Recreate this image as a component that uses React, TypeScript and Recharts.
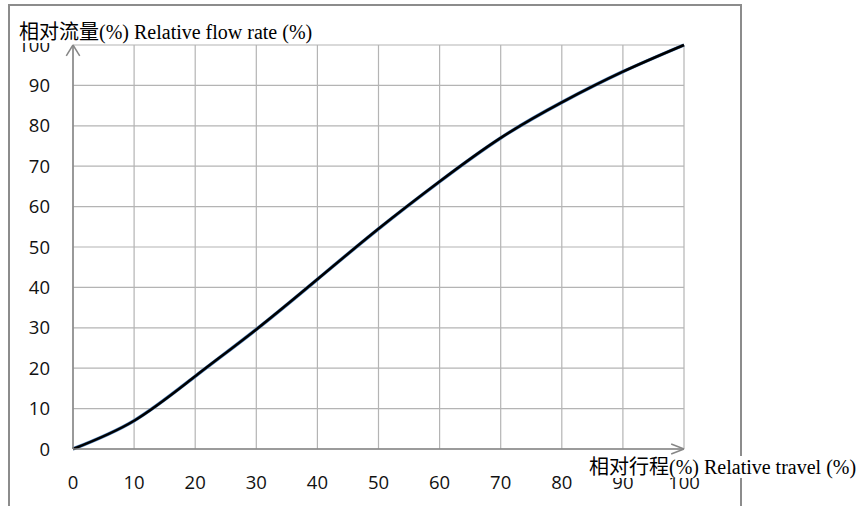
import React from 'react';
import { LineChart, Line, XAxis, YAxis, CartesianGrid, ReferenceLine } from 'recharts';

// relative travel (%) vs relative flow rate (%)
const travel = [0, 10, 20, 30, 40, 50, 60, 70, 80, 90, 100];
const flow = [0, 7, 18, 29.6, 42, 54.5, 66.2, 77, 85.8, 93.4, 100];
const ticks = [0, 10, 20, 30, 40, 50, 60, 70, 80, 90, 100];

const data = travel.map((t, i) => ({ travel: t, flow: flow[i] }));

const AXIS = '#868686';
const GRID = '#b4b4b4';
const tickStyle = { fontFamily: '"Open Sans", "Noto Sans", sans-serif', fontSize: 18.5, fill: '#111' };
const labelStyle: React.CSSProperties = {
    position: 'absolute',
    fontFamily: '"Liberation Serif", "Noto Sans CJK SC", serif',
    fontSize: 20,
    lineHeight: '22px',
    background: '#fff',
    color: '#000',
    whiteSpace: 'nowrap',
    zIndex: 2,
};

export default function App() {
    return (
        <div style={{ position: 'absolute', left: 0, top: 0, width: 860, height: 506, background: '#fff', overflow: 'hidden' }}>
            {/* outer frame, cropped at the bottom */}
            <div
                style={{
                    position: 'absolute',
                    left: 8,
                    top: 4,
                    width: 730,
                    height: 520,
                    border: '2px solid #8c8c8c',
                    zIndex: 0,
                }}
            />
            <div style={{ position: 'absolute', left: 0, top: 0, zIndex: 1 }}>
                <LineChart width={860} height={506} data={data} margin={{ top: 45, right: 176, bottom: 17, left: 13 }}>
                    <CartesianGrid stroke={GRID} strokeWidth={1.2} vertical horizontal />
                    <XAxis
                        dataKey='travel'
                        type='number'
                        domain={[0, 100]}
                        ticks={ticks}
                        height={40}
                        tickLine={false}
                        tickSize={0}
                        tickMargin={27}
                        axisLine={{ stroke: AXIS, strokeWidth: 1.5 }}
                        tick={tickStyle}
                    />
                    <YAxis
                        type='number'
                        domain={[0, 100]}
                        ticks={ticks}
                        width={60}
                        tickLine={false}
                        tickSize={0}
                        tickMargin={23}
                        axisLine={{ stroke: AXIS, strokeWidth: 1.5 }}
                        tick={tickStyle}
                    />
                    {/* arrow heads on the axes */}
                    <ReferenceLine segment={[{ x: 100, y: 0 }, { x: 97.9, y: 1.25 }]} stroke={AXIS} strokeWidth={1.5} ifOverflow='visible' />
                    <ReferenceLine segment={[{ x: 100, y: 0 }, { x: 97.9, y: -1.25 }]} stroke={AXIS} strokeWidth={1.5} ifOverflow='visible' />
                    <ReferenceLine segment={[{ x: 0, y: 100 }, { x: -1.1, y: 97.3 }]} stroke={AXIS} strokeWidth={1.5} ifOverflow='visible' />
                    <ReferenceLine segment={[{ x: 0, y: 100 }, { x: 1.1, y: 97.3 }]} stroke={AXIS} strokeWidth={1.5} ifOverflow='visible' />
                    <Line
                        dataKey='flow'
                        type='natural'
                        stroke='#4f81bd'
                        strokeWidth={3.5}
                        dot={false}
                        isAnimationActive={false}
                    />
                    <Line
                        dataKey='flow'
                        type='natural'
                        stroke='#000'
                        strokeWidth={2.5}
                        dot={false}
                        isAnimationActive={false}
                    />
                </LineChart>
            </div>
            <div style={{ ...labelStyle, left: 19, top: 21 }}>相对流量(%) Relative flow rate (%)</div>
            <div style={{ ...labelStyle, left: 589, top: 456 }}>相对行程(%) Relative travel (%)</div>
        </div>
    );
}
